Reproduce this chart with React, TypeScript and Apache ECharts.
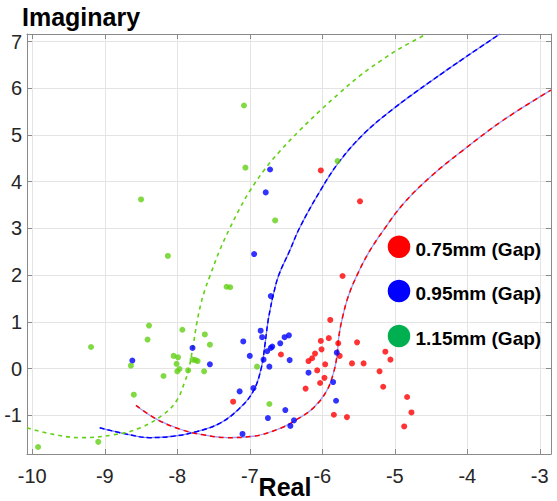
import React, { useEffect, useRef } from "react";
import * as echarts from "echarts";

// ---- data ----
const xAxisTitle = "Real";
const yAxisTitle = "Imaginary";
const seriesNames = ["0.75mm (Gap)", "0.95mm (Gap)", "1.15mm (Gap)"];

const red075: [number, number][] = [
  [-5.89, 1.04], [-5.91, 0.65], [-6.02, 0.59], [-5.78, 0.54], [-5.52, 0.56], [-6.01, 0.41],
  [-6.10, 0.32], [-6.14, 0.22], [-6.19, 0.16], [-5.76, 0.27], [-5.96, 0.09], [-5.59, 0.11],
  [-5.43, 0.11], [-6.07, -0.04], [-5.97, -0.20], [-6.03, -0.31], [-6.23, -0.43], [-6.57, 0.30],
  [-7.23, -0.71], [-5.84, -0.99], [-5.66, -1.04], [-5.13, 0.36], [-5.06, 0.19], [-5.21, -0.06],
  [-5.16, -0.39], [-4.83, -0.61], [-4.77, -0.94], [-4.87, -1.24], [-6.02, 4.24], [-5.48, 3.58],
  [-5.72, 1.98],
];

const blue095: [number, number][] = [
  [-8.62, 0.17], [-7.79, 0.44], [-7.55, 0.09], [-6.85, 0.81], [-7.09, 0.58], [-6.83, 0.67],
  [-6.52, 0.67], [-6.46, 0.71], [-6.58, 0.54], [-6.69, 0.47], [-6.71, 0.44], [-6.76, 0.37],
  [-7.00, 0.27], [-6.81, 0.19], [-6.45, 0.18], [-6.73, 0.04], [-6.95, -0.42], [-7.14, -0.49],
  [-6.51, -0.89], [-6.75, -1.06], [-6.39, -1.11], [-6.44, -1.23], [-7.10, -1.40], [-6.19, -0.09],
  [-5.80, 0.34], [-5.85, -0.29], [-5.81, -0.69], [-6.72, 4.26], [-6.78, 3.77], [-6.94, 2.45],
  [-6.71, 1.55],
];

const green115: [number, number][] = [
  [-8.39, 0.92], [-9.19, 0.46], [-8.41, 0.62], [-7.93, 0.83], [-7.62, 0.73], [-7.55, 0.51],
  [-8.64, 0.06], [-8.05, 0.27], [-7.99, 0.24], [-8.01, 0.10], [-7.97, -0.01], [-8.00, -0.06],
  [-7.85, -0.04], [-7.79, 0.19], [-7.75, 0.18], [-7.72, 0.16], [-7.63, -0.06], [-8.19, -0.16],
  [-8.60, -0.56], [-9.09, -1.57], [-9.92, -1.68], [-8.13, 2.41], [-7.32, 1.75], [-7.27, 1.74],
  [-6.90, 0.04], [-6.73, -0.76], [-7.08, 5.63], [-7.06, 4.30], [-5.79, 4.44], [-6.65, 3.17],
  [-8.50, 3.62],
];

const redCurve: [number, number][] = [
  [-8.57, -0.79], [-8.28, -1.09], [-7.96, -1.30], [-7.64, -1.42], [-7.32, -1.48], [-6.95, -1.45],
  [-6.58, -1.28], [-6.35, -1.09], [-6.12, -0.84], [-5.94, -0.48], [-5.85, -0.12], [-5.80, 0.24],
  [-5.77, 0.70], [-5.72, 1.10], [-5.64, 1.55], [-5.52, 2.0], [-5.36, 2.48], [-5.16, 2.95],
  [-4.88, 3.53], [-4.51, 4.10], [-4.06, 4.67], [-3.50, 5.32], [-2.845, 5.96],
];

const blueCurve: [number, number][] = [
  [-9.07, -1.27], [-8.65, -1.42], [-8.38, -1.48], [-8.06, -1.45], [-7.73, -1.35], [-7.41, -1.17],
  [-7.14, -0.85], [-6.95, -0.48], [-6.84, 0.02], [-6.79, 0.52], [-6.75, 1.0], [-6.72, 1.25],
  [-6.68, 1.55], [-6.60, 2.0], [-6.45, 2.52], [-6.31, 3.02], [-6.03, 3.80], [-5.77, 4.42],
  [-5.43, 5.02], [-5.02, 5.56], [-4.51, 6.14], [-4.01, 6.68], [-3.55, 7.161],
];

const greenCurve: [number, number][] = [
  [-10.073, -1.27], [-9.71, -1.41], [-9.34, -1.48], [-8.88, -1.42], [-8.51, -1.27], [-8.19, -0.98],
  [-8.01, -0.69], [-7.90, -0.30], [-7.84, 0.0], [-7.78, 0.50], [-7.73, 0.98], [-7.68, 1.35],
  [-7.62, 1.68], [-7.55, 1.98], [-7.41, 2.55], [-7.27, 3.02], [-7.14, 3.42], [-7.0, 3.80],
  [-6.8, 4.25], [-6.58, 4.66], [-6.31, 5.1], [-6.03, 5.52], [-5.76, 5.9], [-5.48, 6.27],
  [-5.2, 6.58], [-4.93, 6.85], [-4.56, 7.161],
];

const xRange = [-10.073, -2.845];
const yRange = [-1.83, 7.161];

const FONT = "'Liberation Sans', Arial, Helvetica, sans-serif";
const RED = "#ff0000";
const BLUE = "#0000ff";
const LIME = "#62d014";
const LEGEND_GREEN = "#00b050";
const AXIS_GRAY = "#8a8a8a";

export default function App() {
  const ref = useRef<HTMLDivElement>(null);

  useEffect(() => {
    if (!ref.current) return;
    const chart = echarts.init(ref.current, undefined, { renderer: "svg" });

    const mirrorAxis = {
      type: "value" as const,
      axisLine: { show: true, onZero: false, lineStyle: { color: AXIS_GRAY, width: 1 } },
      axisTick: { show: true, inside: true, length: 5, lineStyle: { color: AXIS_GRAY } },
      splitLine: { show: false },
      axisLabel: { show: false },
    };

    const legendColors = [RED, BLUE, LEGEND_GREEN];
    const legendY = [246.7, 291, 336];
    const legendGraphics: any[] = [];
    seriesNames.forEach((name, i) => {
      legendGraphics.push({
        type: "circle",
        shape: { cx: 399, cy: legendY[i], r: 11.3 },
        style: { fill: legendColors[i] },
        z: 100,
      });
      legendGraphics.push({
        type: "text",
        x: 415.5,
        y: legendY[i] + 2.3,
        style: {
          text: name,
          font: `bold 19px ${FONT}`,
          fill: "#000",
          align: "left",
          verticalAlign: "middle",
        },
        z: 100,
      });
    });

    const lineSeries = (name: string, data: [number, number][], color: string, width: number, type: any, z: number) => ({
      name,
      type: "line",
      data,
      symbol: "none",
      smooth: 0.4,
      lineStyle: { color, width, type },
      z,
    });

    chart.setOption({
      animation: false,
      backgroundColor: "#ffffff",
      grid: { left: 27, right: 6, top: 34, bottom: 47, containLabel: false },
      xAxis: [
        {
          type: "value",
          min: xRange[0],
          max: xRange[1],
          splitNumber: 7,
          axisLine: { show: true, onZero: false, lineStyle: { color: AXIS_GRAY } },
          axisTick: { show: true, inside: true, length: 5, lineStyle: { color: AXIS_GRAY } },
          splitLine: { show: true, lineStyle: { color: "#e4e4e4", width: 1 } },
          axisLabel: {
            show: true,
            margin: 12,
            showMinLabel: false,
            showMaxLabel: false,
            color: "#262626",
            fontSize: 20,
            fontFamily: FONT,
          },
        },
        { ...mirrorAxis, position: "top", min: xRange[0], max: xRange[1], splitNumber: 7 },
      ],
      yAxis: [
        {
          type: "value",
          min: yRange[0],
          max: yRange[1],
          splitNumber: 9,
          axisLine: { show: true, onZero: false, lineStyle: { color: AXIS_GRAY } },
          axisTick: { show: true, inside: true, length: 5, lineStyle: { color: AXIS_GRAY } },
          splitLine: { show: true, lineStyle: { color: "#e4e4e4", width: 1 } },
          axisLabel: {
            show: true,
            margin: 5,
            showMinLabel: false,
            showMaxLabel: false,
            color: "#262626",
            fontSize: 20,
            fontFamily: FONT,
          },
        },
        { ...mirrorAxis, position: "right", min: yRange[0], max: yRange[1], splitNumber: 9 },
      ],
      graphic: [
        {
          type: "text",
          x: 22,
          y: 17.3,
          style: {
            text: yAxisTitle,
            font: `bold 25px ${FONT}`,
            fill: "#000",
            align: "left",
            verticalAlign: "middle",
          },
        },
        {
          type: "text",
          x: 285,
          y: 487,
          style: {
            text: xAxisTitle,
            font: `bold 25px ${FONT}`,
            fill: "#000",
            align: "center",
            verticalAlign: "middle",
          },
        },
        ...legendGraphics,
      ],
      series: [
        lineSeries("curve-red-under", redCurve, "#9c9cff", 1.3, "solid", 3),
        lineSeries("curve-red", redCurve, RED, 1.5, [5, 4], 4),
        lineSeries("curve-blue-under", blueCurve, "#8080ff", 1.3, "solid", 3),
        lineSeries("curve-blue", blueCurve, BLUE, 1.5, [5, 3], 4),
        lineSeries("curve-green", greenCurve, LIME, 1.6, [4, 4], 4),
        {
          name: seriesNames[0],
          type: "scatter",
          data: red075,
          symbolSize: 6,
          itemStyle: { color: RED },
          z: 5,
        },
        {
          name: seriesNames[1],
          type: "scatter",
          data: blue095,
          symbolSize: 6,
          itemStyle: { color: BLUE },
          z: 5,
        },
        {
          name: seriesNames[2],
          type: "scatter",
          data: green115,
          symbolSize: 6,
          itemStyle: { color: LIME },
          z: 5,
        },
      ],
    });

    return () => chart.dispose();
  }, []);

  return (
    <div
      ref={ref}
      style={{ position: "fixed", left: 0, top: 0, width: 557, height: 501, background: "#fff" }}
    />
  );
}
